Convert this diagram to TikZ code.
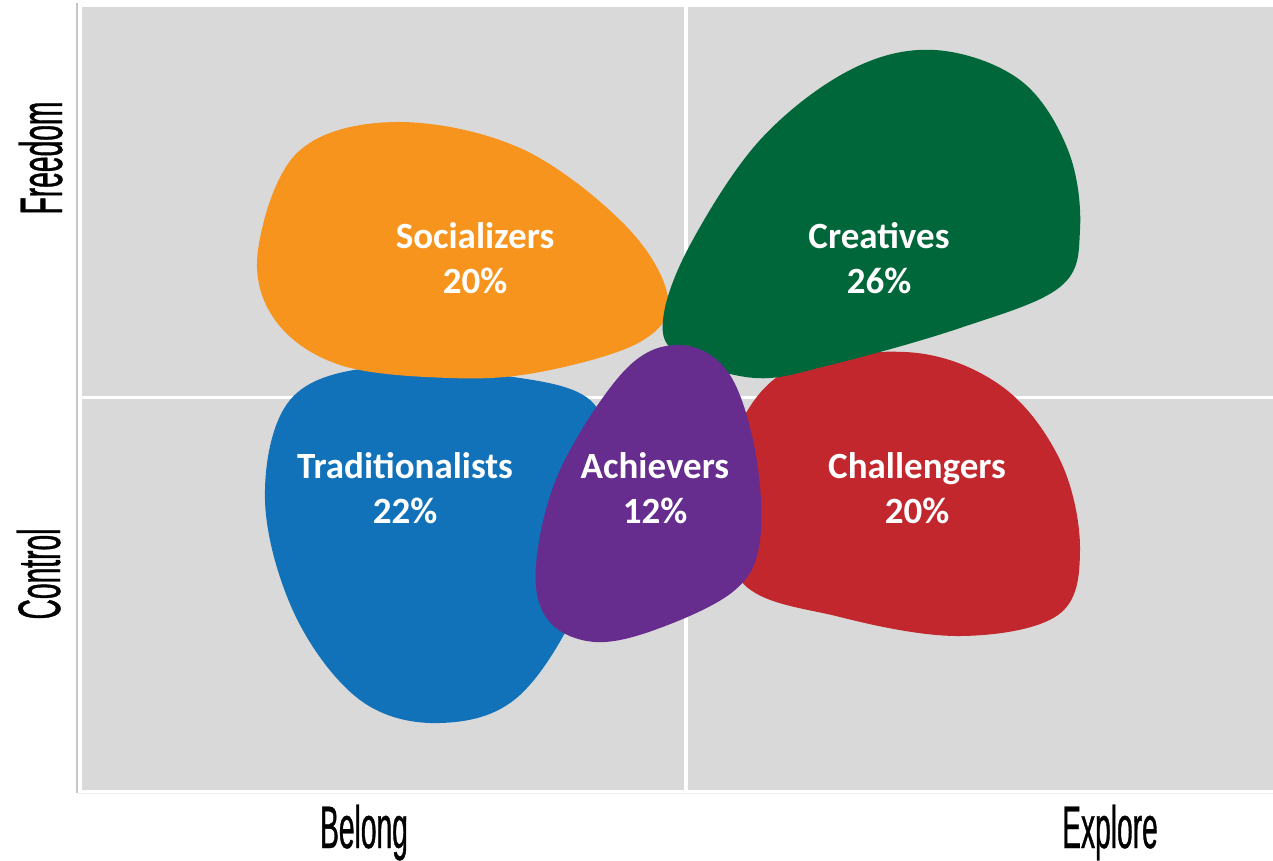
\documentclass[tikz,border=0pt]{standalone}
\usepackage{fontspec}
\newfontfamily\lblfont{Carlito}
\newfontfamily\axisfont[FakeStretch=0.47,FakeBold=0.6]{Liberation Sans}
\definecolor{bggray}{HTML}{D9D9D9}
\definecolor{cOrange}{HTML}{F7941E}
\definecolor{cGreen}{HTML}{00673A}
\definecolor{cRed}{HTML}{C1272D}
\definecolor{cBlue}{HTML}{1172BA}
\definecolor{cPurple}{HTML}{662D8F}
\tikzset{
  grouplabel/.style={text=white, align=center, font=\lblfont\bfseries\fontsize{37}{45}\selectfont, inner sep=0pt},
  axislabel/.style={text=black, font=\axisfont\fontsize{60}{60}\selectfont, inner sep=0pt, anchor=base},
  divider/.style={draw=white, line width=3.5pt},
}
\begin{document}
\begin{tikzpicture}[x=1pt,y=-1pt]
\useasboundingbox (0,0) rectangle (1273,860);
\fill[white] (0,0) rectangle (1273,860);
% background panel
\fill[bggray] (82,7) rectangle (1273,790);
\draw[gray!45, line width=1.5pt] (77,3) -- (77,793);
\draw[gray!12, line width=1pt] (77,793) -- (1273,793);
% dividers
\draw[divider] (686,7) -- (686,790);
\draw[divider, line width=3pt] (82,397) -- (1273,397);
% Traditionalists (blue)
\fill[cBlue] plot[smooth cycle, tension=0.6] coordinates {
 (375,367) (500,375) (590,400) (608,470) (585,590) (520,695) (440,723) (360,700) (295,615) (265,500) (290,400)};
% Socializers (orange)
\fill[cOrange] plot[smooth cycle, tension=0.6] coordinates {
 (258,250) (298,152) (395,122) (520,148) (625,225) (668,298) (640,342) (540,372) (450,378) (340,365) (275,320)};
% Challengers (red)
\fill[cRed] plot[smooth cycle, tension=0.6] coordinates {
 (905,352) (1000,385) (1060,460) (1080,550) (1058,615) (960,636) (840,617) (740,580) (725,470) (780,375)};
% Creatives (green)
\fill[cGreen] plot[smooth cycle, tension=0.6] coordinates {
 (663,320) (690,245) (760,140) (850,70) (935,50) (1020,80) (1068,150) (1080,230) (1060,287) (960,328) (830,365) (755,378) (680,355)};
% Achievers (purple)
\fill[cPurple] plot[smooth cycle, tension=0.6] coordinates {
 (680,345) (728,372) (755,450) (760,540) (735,590) (660,628) (595,642) (548,620) (536,565) (560,470) (625,370)};
% labels
\node[grouplabel] (soc) at (475,258) {Socializers\\20\%};
\node[grouplabel] (cre) at (879,258) {Creatives\\26\%};
\node[grouplabel] (tra) at (405,488) {Traditionalists\\22\%};
\node[grouplabel] (ach) at (655,488) {Achievers\\12\%};
\node[grouplabel] (cha) at (917,488) {Challengers\\20\%};
% axes labels
\node[axislabel, rotate=90] (free) at (62,158) {Freedom};
\node[axislabel, rotate=90] (ctrl) at (60,574) {Control};
\node[axislabel] (bel) at (364,848) {Belong};
\node[axislabel] (exp) at (1110,848) {Explore};
\end{tikzpicture}
\end{document}
